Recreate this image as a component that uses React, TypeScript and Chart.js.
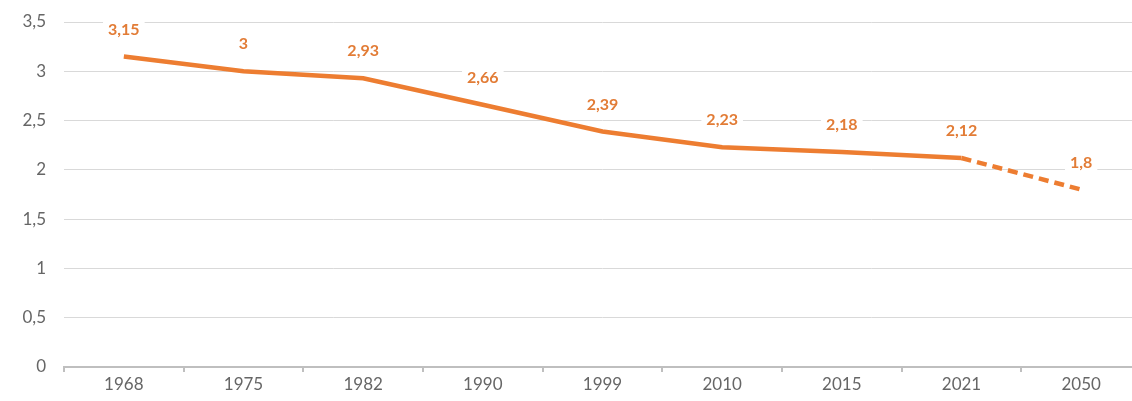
import React, { useEffect, useRef } from "react";
import { Chart, registerables } from "chart.js";

Chart.register(...registerables);

const years = ["1968", "1975", "1982", "1990", "1999", "2010", "2015", "2021", "2050"];
const values = [3.15, 3, 2.93, 2.66, 2.39, 2.23, 2.18, 2.12, 1.8];
const valueLabels = ["3,15", "3", "2,93", "2,66", "2,39", "2,23", "2,18", "2,12", "1,8"];
const projectedFrom = 7;

const ORANGE = "#ED7D31";

const labelPlugin = {
  id: "valueLabels",
  afterDatasetsDraw(chart: any) {
    const ctx = chart.ctx;
    const meta = chart.getDatasetMeta(0);
    ctx.save();
    ctx.font = "bold 16px Lato, 'Open Sans', sans-serif";
    ctx.textAlign = "center";
    ctx.textBaseline = "middle";
    meta.data.forEach((pt: any, i: number) => {
      const txt = valueLabels[i];
      const x = pt.x;
      const y = pt.y - 27;
      const w = ctx.measureText(txt).width;
      ctx.fillStyle = "#ffffff";
      ctx.fillRect(x - w / 2 - 5, y - 10, w + 10, 20);
      ctx.fillStyle = "#E27C36";
      ctx.fillText(txt, x, y);
    });
    ctx.restore();
  },
};

export default function App() {
  const ref = useRef<HTMLCanvasElement>(null);
  useEffect(() => {
    if (!ref.current) return;
    const chart = new Chart(ref.current, {
      type: "line",
      data: {
        labels: years,
        datasets: [
          {
            data: values,
            borderColor: ORANGE,
            borderWidth: 4.5,
            pointRadius: 0,
            tension: 0,
            fill: false,
            segment: {
              borderDash: (c: any) => (c.p0DataIndex >= projectedFrom ? [10, 6] : undefined),
            },
          },
        ],
      },
      options: {
        responsive: false,
        animation: false,
        layout: { padding: { top: 22, right: 9, left: 0, bottom: 0 } },
        plugins: { legend: { display: false }, tooltip: { enabled: false } },
        scales: {
          x: {
            type: "category",
            offset: true,
            grid: {
              offset: true,
              drawOnChartArea: false,
              drawTicks: true,
              tickLength: 5,
              color: "#BFBFBF",
              lineWidth: 2,
            },
            border: { display: true, color: "#BFBFBF", width: 2 },
            ticks: {
              color: "#666666",
              font: { family: "Lato, 'Open Sans', sans-serif", size: 17 },
              padding: 2,
              maxRotation: 0,
            },
            afterFit: (s: any) => {
              s.height = 34;
              s.paddingLeft = 0;
              s.paddingRight = 0;
            },
          },
          y: {
            min: 0,
            max: 3.5,
            ticks: {
              stepSize: 0.5,
              color: "#666666",
              padding: 18,
              font: { family: "Lato, 'Open Sans', sans-serif", size: 17 },
              callback: (v: any) => String(v).replace(".", ","),
            },
            grid: { color: "#D9D9D9", lineWidth: 1, drawTicks: false },
            border: { display: false },
            afterFit: (s: any) => {
              s.width = 64;
              s.paddingTop = 0;
              s.paddingBottom = 0;
            },
          },
        },
      },
      plugins: [labelPlugin],
    });
    return () => chart.destroy();
  }, []);
  return (
    <div style={{ position: "fixed", left: 0, top: 0, width: 1132, height: 401, overflow: "hidden", background: "#fff" }}>
      <canvas ref={ref} width={1150} height={401} style={{ width: 1150, height: 401 }} />
    </div>
  );
}
